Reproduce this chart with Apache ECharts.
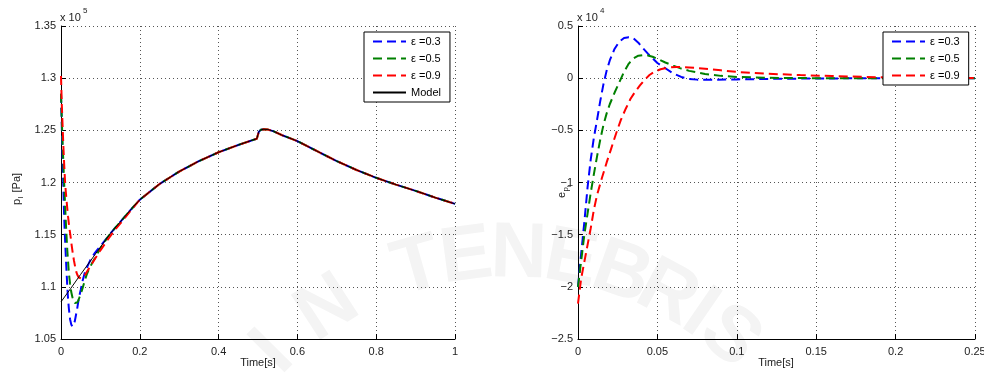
<!DOCTYPE html>
<html><head><meta charset="utf-8">
<script src="https://cdn.jsdelivr.net/npm/echarts@6/dist/echarts.min.js"></script>
<style>html,body{margin:0;padding:0;background:#fff}#c{width:984px;height:374px}</style>
</head><body><div id="c"></div>
<script>
// ---------- data (pressures and errors in kPa; axes show x10^5 Pa and x10^4 Pa) ----------
const names = ['ε =0.3', 'ε =0.5', 'ε =0.9', 'Model'];
const colors = ['#0000ff', '#008000', '#ff0000', '#000000'];

// Left panel: p_l
const modelT = [0,0.025,0.05,0.075,0.1,0.125,0.15,0.175,0.2,0.25,0.3,0.35,0.4,0.45,0.497,0.502,0.507,0.515,0.525,0.54,0.56,0.6,0.65,0.7,0.75,0.8,0.85,0.9,0.95,1.0];
const modelP = [108.56,109.86,111.2,112.5,113.8,115.1,116.2,117.3,118.35,119.85,121.05,122.05,122.9,123.6,124.2,124.85,125.05,125.1,125.08,124.9,124.55,123.97,123.0,122.05,121.2,120.45,119.8,119.2,118.55,117.95];

const blueT = [0,0.002,0.004,0.006,0.008,0.01,0.012,0.014,0.016,0.018,0.02,0.023,0.026,0.029,0.032,0.035,0.038,0.041,0.044,0.047,0.05,0.055,0.06,0.065,0.07,0.075,0.085,0.1];
const blueP = [128.5,125.4,122.5,119.4,116.7,114.8,113.1,111.5,110.0,108.8,107.9,106.9,106.4,106.2,106.3,106.7,107.3,107.9,108.6,109.2,109.7,110.6,111.3,111.8,112.2,112.6,113.2,113.9];

const greenT = [0,0.002,0.004,0.008,0.012,0.016,0.02,0.023,0.026,0.029,0.032,0.035,0.038,0.041,0.044,0.047,0.05,0.055,0.06,0.065,0.07,0.08,0.09,0.1,0.12];
const greenP = [128.5,126.1,123.8,120.0,116.4,113.5,111.3,110.3,109.5,109.0,108.65,108.45,108.4,108.5,108.7,109.0,109.3,109.9,110.55,111.15,111.6,112.35,113.0,113.7,114.85];

const redT = [0,0.002,0.004,0.006,0.008,0.01,0.012,0.015,0.018,0.021,0.024,0.027,0.03,0.033,0.036,0.039,0.042,0.045,0.048,0.052,0.056,0.062,0.07,0.08,0.09,0.1,0.12,0.14,0.16,0.18,0.2];
const redP = [130.2,127.5,125.5,123.5,121.8,120.3,119.2,117.9,116.7,115.7,114.9,114.0,113.2,112.5,111.9,111.4,111.1,110.9,110.8,110.8,110.9,111.2,111.7,112.3,112.9,113.5,114.6,115.6,116.5,117.45,118.35];

// Right panel: e_pl
const eBlueT = [0,0.002,0.004,0.006,0.008,0.01,0.012,0.014,0.016,0.018,0.02,0.023,0.026,0.029,0.032,0.035,0.038,0.041,0.044,0.047,0.05,0.055,0.06,0.065,0.07,0.075,0.085,0.1,0.12,0.15,0.2,0.25];
const eBlue  = [-20,-16.8,-13.8,-10.5,-7.8,-5.7,-4.0,-2.2,-0.6,0.7,1.7,2.8,3.5,3.85,3.92,3.8,3.4,2.85,2.35,1.9,1.45,0.95,0.45,0.12,-0.08,-0.14,-0.15,-0.12,-0.07,-0.03,0,0];

const eGreenT = [0,0.002,0.004,0.006,0.008,0.01,0.012,0.014,0.016,0.018,0.02,0.023,0.026,0.029,0.032,0.035,0.038,0.041,0.044,0.047,0.05,0.055,0.06,0.065,0.07,0.08,0.09,0.1,0.12,0.15,0.25];
const eGreen  = [-20,-17.5,-15,-13,-11,-9.2,-7.5,-5.9,-4.5,-3.4,-2.5,-1.4,-0.4,0.6,1.4,1.9,2.15,2.22,2.18,2.05,1.85,1.5,1.2,0.92,0.7,0.4,0.22,0.12,0.03,0,0];

const eRedT = [0,0.002,0.004,0.006,0.008,0.01,0.012,0.015,0.018,0.021,0.024,0.027,0.03,0.033,0.036,0.039,0.042,0.045,0.048,0.052,0.056,0.062,0.07,0.08,0.09,0.1,0.12,0.14,0.16,0.18,0.2,0.22,0.25];
const eRed  = [-21.6,-19.2,-17.6,-16.0,-14.4,-12.6,-11.2,-9.6,-8.1,-6.7,-5.3,-4.0,-2.95,-2.0,-1.3,-0.7,-0.15,0.3,0.6,0.85,1.0,1.08,1.03,0.9,0.75,0.6,0.42,0.3,0.2,0.12,0.06,0.03,0.01];

const leftXTicks = {min: 0, max: 1, interval: 0.2};
const leftYTicks = {min: 105, max: 135, interval: 5};
const rightXTicks = {min: 0, max: 0.25, interval: 0.05};
const rightYTicks = {min: -25, max: 5, interval: 5};

// ---------- build ----------
const zip = (t, v) => t.map((x, i) => [x, v[i]]);
const modelPts = zip(modelT, modelP);
const withTail = (t, v) => zip(t, v).concat(modelPts.filter(p => p[0] > t[t.length - 1]));

const FONT = "'Liberation Sans', Arial, sans-serif";
const fmtNum = v => { const s = String(parseFloat(v.toFixed(4))); return s.replace('-', '\u2212'); };

function xAxis(idx, ticks) {
  return {
    type: 'value', gridIndex: idx, min: ticks.min, max: ticks.max, interval: ticks.interval,
    axisLine: {show: true, onZero: false, lineStyle: {color: '#000', width: 1}},
    axisTick: {show: true, inside: true, length: 5, lineStyle: {color: '#000'}},
    axisLabel: {color: '#222', fontSize: 11, fontFamily: FONT, margin: 7, formatter: v => fmtNum(v)},
    splitLine: {show: true, lineStyle: {color: '#555', type: [1, 3], width: 1}}
  };
}
function yAxis(idx, ticks, scale) {
  return {
    type: 'value', gridIndex: idx, min: ticks.min, max: ticks.max, interval: ticks.interval,
    axisLine: {show: true, onZero: false, lineStyle: {color: '#000', width: 1}},
    axisTick: {show: true, inside: true, length: 5, lineStyle: {color: '#000'}},
    axisLabel: {color: '#222', fontSize: 11, fontFamily: FONT, margin: 5, formatter: v => fmtNum(v / scale)},
    splitLine: {show: true, lineStyle: {color: '#555', type: [1, 3], width: 1}}
  };
}
function dashed(name, color, data, axisIdx) {
  return {
    name, type: 'line', xAxisIndex: axisIdx, yAxisIndex: axisIdx, data, symbol: 'none',
    showSymbol: false, animation: false, clip: true,
    lineStyle: {color, width: 2, type: [9, 5]}, itemStyle: {color}
  };
}

// watermark letters along an arc
const wmLetters = ['I','N','T','E','N','E','B','R','I','S'];
const wmAngles = [-45, -33, -16, -7.5, 1.5, 10.5, 19.5, 28, 34.5, 41];
const wm = wmLetters.map((ch, i) => {
  const a = wmAngles[i] * Math.PI / 180, R = 335, cx = 510, cy = 590;
  return {
    type: 'text', z: -10, silent: true,
    x: cx + R * Math.sin(a), y: cy - R * Math.cos(a), rotation: -a,
    style: {text: ch, font: "bold 78px 'Liberation Sans', Arial", fill: '#f4f4f4', align: 'center', verticalAlign: 'middle'}
  };
});

const txt = (x, y, text, size, extra) => ({
  type: 'text', x, y, z: 20, silent: true,
  style: Object.assign({text, fontSize: size, fontFamily: FONT, fill: '#222', align: 'left', verticalAlign: 'top'}, extra || {})
});

const graphics = wm.concat([
  txt(60, 12, 'x 10', 11), txt(83, 7, '5', 8),
  txt(577, 12, 'x 10', 11), txt(600, 7, '4', 8),
  txt(258, 357, 'Time[s]', 11, {align: 'center'}),
  txt(776, 357, 'Time[s]', 11, {align: 'center'}),
  {type: 'group', x: 17, y: 186, rotation: Math.PI / 2, z: 20, children: [
    {type: 'text', x: -19, y: 0, style: {text: 'p', fontSize: 11, fontFamily: FONT, fill: '#222', align: 'left', verticalAlign: 'middle'}},
    {type: 'text', x: -12.5, y: 4, style: {text: 'l', fontSize: 8, fontFamily: FONT, fill: '#222', align: 'left', verticalAlign: 'middle'}},
    {type: 'text', x: -9.5, y: 0, style: {text: ' [Pa]', fontSize: 11, fontFamily: FONT, fill: '#222', align: 'left', verticalAlign: 'middle'}}
  ]},
  {type: 'group', x: 562, y: 190, rotation: Math.PI / 2, z: 20, children: [
    {type: 'text', x: -8, y: 0, style: {text: 'e', fontSize: 11, fontFamily: FONT, fill: '#222', align: 'left', verticalAlign: 'middle'}},
    {type: 'text', x: -1.5, y: 4, style: {text: 'p', fontSize: 8, fontFamily: FONT, fill: '#222', align: 'left', verticalAlign: 'middle'}},
    {type: 'text', x: 3, y: 7, style: {text: 'l', fontSize: 6, fontFamily: FONT, fill: '#222', align: 'left', verticalAlign: 'middle'}}
  ]}
]);

const legendBase = {
  orient: 'vertical', itemWidth: 33, itemHeight: 12, itemGap: 6, padding: [4, 9, 4, 8],
  backgroundColor: '#fff', borderColor: '#000', borderWidth: 1, borderRadius: 0,
  textStyle: {color: '#000', fontSize: 11, fontFamily: FONT}, selectedMode: false,
  itemStyle: {opacity: 0}, symbolRotate: 0
};

const option = {
  backgroundColor: '#fff', animation: false,
  grid: [
    {left: 61, top: 26, width: 394, height: 313, outerBoundsMode: 'none', containLabel: false},
    {left: 578, top: 26, width: 397, height: 313, outerBoundsMode: 'none', containLabel: false}
  ],
  xAxis: [xAxis(0, leftXTicks), xAxis(1, rightXTicks)],
  yAxis: [yAxis(0, leftYTicks, 100), yAxis(1, rightYTicks, 10)],
  legend: [
    Object.assign({}, legendBase, {left: 364, top: 32, data: names}),
    Object.assign({}, legendBase, {left: 883, top: 32, data: names.slice(0, 3)})
  ],
  graphic: graphics,
  series: [
    dashed(names[0], colors[0], withTail(blueT, blueP), 0),
    dashed(names[1], colors[1], withTail(greenT, greenP), 0),
    dashed(names[2], colors[2], withTail(redT, redP), 0),
    {name: names[3], type: 'line', xAxisIndex: 0, yAxisIndex: 0, data: modelPts, symbol: 'none', showSymbol: false,
     lineStyle: {color: '#000', width: 1}, itemStyle: {color: '#000'}, z: 5},
    dashed(names[0], colors[0], zip(eBlueT, eBlue), 1),
    dashed(names[1], colors[1], zip(eGreenT, eGreen), 1),
    dashed(names[2], colors[2], zip(eRedT, eRed), 1)
  ]
};
const chart = echarts.init(document.getElementById('c'), null, {renderer: 'canvas'});
chart.setOption(option);
</script></body></html>
